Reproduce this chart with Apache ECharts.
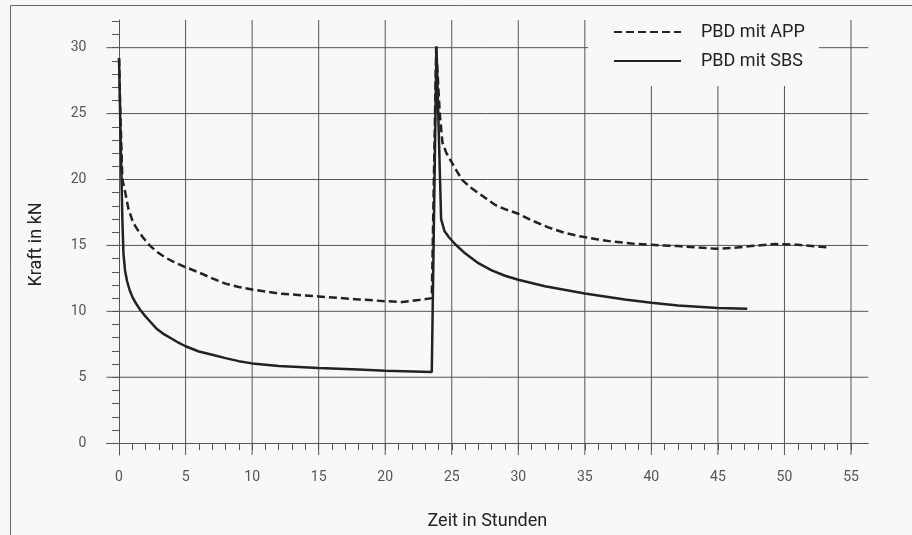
<!DOCTYPE html>
<html>
<head>
<meta charset="utf-8">
<script src="https://cdn.jsdelivr.net/npm/echarts@6/dist/echarts.min.js"></script>
<style>
  html, body { margin: 0; padding: 0; background: #f8f8f7; }
  #chart { width: 912px; height: 535px; }
</style>
</head>
<body>
<div id="chart"></div>
<script>
// Kraftverlauf
const appTime  = [0, 0.1, 0.25, 0.45, 0.7, 1, 1.2, 1.45, 1.8, 2.3, 2.8, 3.45, 4, 5, 6, 7, 8, 9, 10, 12, 15, 18, 20, 21.3, 22.5, 23.5, 23.83, 24.1, 24.3, 24.6, 25, 25.4, 25.8, 26.4, 27.1, 28.3, 29, 30, 31, 32.3, 33.5, 34.6, 36, 37, 38.5, 39.8, 42, 44.8, 46, 47.5, 49.3, 51, 53.3];
const appForce = [29.2, 25, 20, 19.1, 17.8, 16.9, 16.5, 16.1, 15.6, 15.0, 14.55, 14.1, 13.8, 13.35, 12.95, 12.5, 12.1, 11.85, 11.65, 11.35, 11.13, 10.9, 10.77, 10.7, 10.85, 11.0, 30.05, 25, 22.8, 22.0, 21.3, 20.6, 19.95, 19.4, 18.9, 18.05, 17.75, 17.4, 16.9, 16.35, 15.95, 15.7, 15.45, 15.3, 15.15, 15.05, 14.95, 14.75, 14.8, 14.95, 15.1, 15.05, 14.85];

const sbsTime  = [0, 0.1, 0.25, 0.33, 0.45, 0.6, 0.8, 1, 1.3, 1.6, 2, 2.4, 2.8, 3.4, 4, 4.5, 5, 6, 7, 8, 9, 10, 12, 15, 18, 20, 23.5, 23.85, 24.2, 24.45, 24.8, 25.3, 26, 27, 28, 29, 30, 32, 35, 38, 40, 42, 45, 47.2];
const sbsForce = [29.2, 24, 17, 14.4, 13.1, 12.3, 11.6, 11.1, 10.55, 10.1, 9.6, 9.15, 8.7, 8.25, 7.9, 7.6, 7.35, 6.95, 6.7, 6.45, 6.22, 6.05, 5.85, 5.7, 5.58, 5.5, 5.4, 30.1, 17, 16.1, 15.6, 15.05, 14.4, 13.65, 13.1, 12.7, 12.4, 11.9, 11.35, 10.9, 10.65, 10.45, 10.25, 10.2];

const xLabels = [0, 5, 10, 15, 20, 25, 30, 35, 40, 45, 50, 55];
const yLabels = [0, 5, 10, 15, 20, 25, 30];
const xMinor = Array.from({ length: 56 }, (_, i) => i);
const yMinor = Array.from({ length: 33 }, (_, i) => i);

const X_MIN = -0.95, X_MAX = 56.3, Y_MIN = -0.9, Y_MAX = 32.1;
const ink = '#222';
const gridInk = '#555';
const font = 'Roboto, "DejaVu Sans", sans-serif';

const zip = (xs, ys) => xs.map((x, i) => [x, ys[i]]);

// Gitterlinien als eigene Serien (laufen über die Achsen hinaus wie in der Vorlage)
const gridSeries = [];
xLabels.filter(v => v > 0).forEach(v => {
  gridSeries.push({
    type: 'line', silent: true, symbol: 'none', z: 1, animation: false,
    data: [[v, Y_MIN], [v, Y_MAX]],
    lineStyle: { color: gridInk, width: 1 }
  });
});
yLabels.filter(v => v > 0).forEach(v => {
  gridSeries.push({
    type: 'line', silent: true, symbol: 'none', z: 1, animation: false,
    data: [[X_MIN, v], [X_MAX, v]],
    lineStyle: { color: gridInk, width: 1 }
  });
});

const chart = echarts.init(document.getElementById('chart'));
chart.setOption({
  backgroundColor: '#f8f8f7',
  animation: false,
  textStyle: { fontFamily: font },
  grid: { left: 106.4, width: 761.9, top: 20, height: 440 },
  graphic: [{
    type: 'rect', silent: true,
    shape: { x: 10.5, y: 5.5, width: 920, height: 560 },
    style: { fill: null, stroke: '#666', lineWidth: 1 }
  }],
  legend: {
    orient: 'vertical',
    left: 588, top: 15,
    padding: [8, 14, 16, 25],
    backgroundColor: '#f8f8f7',
    itemWidth: 67, itemHeight: 14, itemGap: 11,
    itemStyle: { opacity: 0 },
    data: ['PBD mit APP', 'PBD mit SBS'],
    textStyle: { color: ink, fontSize: 18, lineHeight: 18, fontFamily: font, padding: [0, 0, 0, 15] }
  },
  xAxis: {
    type: 'value', min: X_MIN, max: X_MAX,
    name: 'Zeit in Stunden', nameLocation: 'middle', nameGap: 57,
    nameTextStyle: { fontSize: 18, color: ink, fontFamily: font },
    axisLine: { onZero: true, lineStyle: { color: gridInk, width: 1 } },
    axisTick: { show: true, customValues: xMinor, length: 7, lineStyle: { color: gridInk } },
    axisLabel: { customValues: xLabels, margin: 15, fontSize: 14, color: '#555', fontFamily: font },
    splitLine: { show: false }
  },
  yAxis: {
    type: 'value', min: Y_MIN, max: Y_MAX,
    name: 'Kraft in kN', nameLocation: 'middle', nameGap: 61,
    nameTextStyle: { fontSize: 18, color: ink, fontFamily: font, padding: [0, 14, 0, 0] },
    axisLine: { onZero: true, lineStyle: { color: gridInk, width: 1 } },
    axisTick: { show: true, customValues: yMinor, length: 7, lineStyle: { color: gridInk } },
    axisLabel: { customValues: yLabels, margin: 20, fontSize: 14, color: '#555', fontFamily: font },
    splitLine: { show: false }
  },
  series: gridSeries.concat([
    {
      name: 'PBD mit APP', type: 'line', symbol: 'none', z: 3,
      data: zip(appTime, appForce),
      lineStyle: { color: ink, width: 2.5, type: [8, 4] },
      itemStyle: { color: ink }
    },
    {
      name: 'PBD mit SBS', type: 'line', symbol: 'none', z: 3,
      data: zip(sbsTime, sbsForce),
      lineStyle: { color: ink, width: 2.5 },
      itemStyle: { color: ink }
    }
  ])
});
</script>
</body>
</html>
